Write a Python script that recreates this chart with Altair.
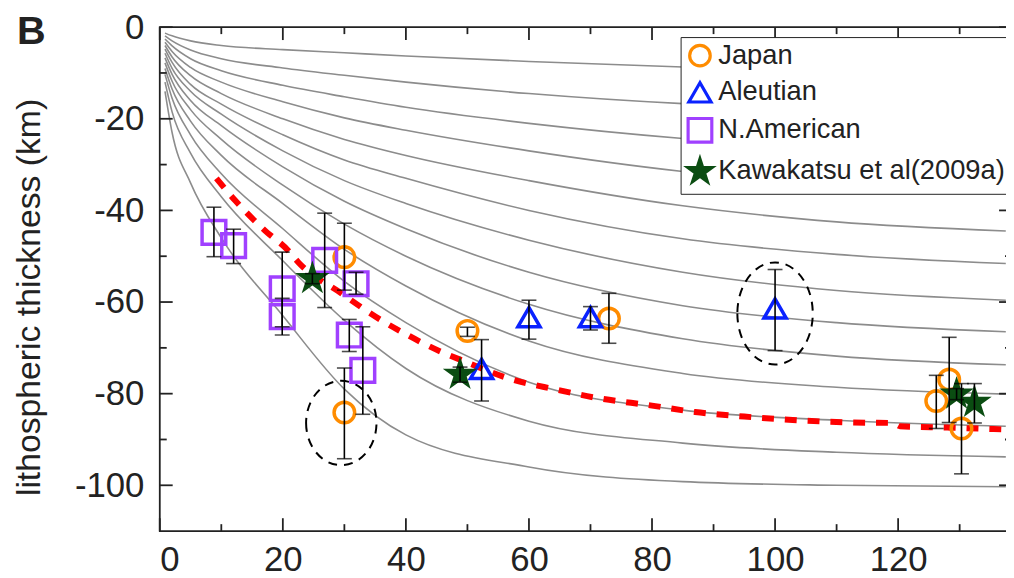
import altair as alt
import pandas as pd

# ---------------- data ----------------
# grey model curves (age, thickness), read at a few ages per curve
curve_x = [0.85, 2, 5, 10, 20, 30, 40, 60, 85, 110, 137.5]
curves = {
    "c01": [-14.0, -23.0, -34.0, -46.0, -63.0, -79.0, -89.0, -96.0, -99.2, -100.0, -100.3],
    "c02": [-12.0, -18.5, -27.5, -37.0, -51.0, -64.0, -74.5, -86.0, -90.8, -92.8, -93.8],
    "c03": [-10.3, -15.5, -23.5, -32.0, -44.0, -55.5, -64.5, -77.5, -83.6, -85.8, -87.1],
    "c04": [-9.0, -13.5, -20.5, -28.0, -38.5, -48.5, -56.5, -68.5, -75.6, -78.6, -80.1],
    "c05": [-7.8, -11.8, -18.0, -24.5, -34.5, -43.0, -50.0, -60.5, -68.0, -71.8, -73.7],
    "c06": [-6.7, -10.3, -16.0, -21.5, -30.5, -38.0, -44.0, -53.5, -60.8, -64.5, -66.5],
    "c07": [-5.7, -9.0, -14.0, -19.0, -27.0, -33.5, -38.5, -46.5, -53.5, -57.5, -59.6],
    "c08": [-4.8, -7.7, -12.5, -16.8, -23.5, -29.0, -33.0, -40.0, -46.2, -49.6, -51.6],
    "c09": [-4.0, -6.5, -10.6, -14.5, -20.0, -24.5, -28.0, -33.5, -39.0, -42.5, -44.5],
    "c10": [-3.3, -5.3, -8.8, -12.0, -16.3, -19.8, -22.5, -27.0, -31.5, -34.5, -36.2],
    "c11": [-2.6, -4.1, -6.9, -9.5, -12.7, -15.2, -17.5, -21.0, -24.3, -26.5, -27.5],
    "c12": [-1.9, -3.0, -5.0, -6.9, -8.9, -10.5, -12.0, -14.5, -16.7, -17.8, -18.5],
    "c13": [-1.3, -1.9, -3.0, -4.0, -4.9, -5.6, -6.3, -7.5, -8.7, -9.6, -10.2],
}

# red dashed mean curve
red_x = [9.2, 12.3, 17.1, 20.9, 22.5, 29.5, 35.9, 39.7, 45.6, 50.0, 56.3, 64.4,
         70.9, 80.0, 87.0, 95.0, 101.0, 112.8, 119.2, 120.3, 128.0, 137.0]
red_y = [-33.0, -37.9, -44.4, -48.8, -51.3, -58.1, -63.9, -66.8, -70.8, -73.2, -76.5, -79.1,
         -80.9, -82.6, -84.0, -85.0, -85.6, -86.3, -86.4, -87.1, -87.4, -87.8]

# observations: series, age, thickness, error-bar low, error-bar high
series_names = ["Japan", "Aleutian", "N.American", "Kawakatsu et al(2009a)"]
obs_series = (["Japan"] * 7 + ["Aleutian"] * 4 + ["N.American"] * 8
              + ["Kawakatsu et al(2009a)"] * 4)
obs_x = [30.0, 30.0, 50.0, 73.0, 126.2, 128.3, 130.3,
         52.3, 60.0, 70.0, 100.0,
         8.8, 12.0, 19.9, 19.9, 26.8, 30.8, 31.9, 33.0,
         24.8, 48.8, 129.5, 132.4]
obs_y = [-50.2, -84.1, -66.3, -63.6, -81.6, -76.9, -87.6,
         -74.6, -63.3, -63.3, -61.4,
         -44.8, -47.7, -57.1, -63.2, -50.9, -67.2, -56.0, -74.9,
         -54.9, -75.8, -80.1, -81.9]
err_lo = [-57.4, -94.2, -67.5, -69.0, -87.6, -86.3, -97.5,
          -81.6, -68.1, -66.1, -70.6,
          -50.1, -51.6, -65.4, -67.2, -61.2, -70.8, -58.3, -84.5,
          -56.0, -77.5, -81.3, -86.4]
err_hi = [-42.8, -74.4, -65.5, -58.1, -76.0, -67.7, -77.8,
          -68.2, -59.6, -61.0, -52.9,
          -39.3, -44.1, -49.1, -59.2, -40.6, -63.8, -53.5, -65.4,
          -53.8, -74.2, -78.9, -77.8]

# dashed ellipses (centre age, centre thickness)
ell_x = [29.5, 100.0]
ell_y = [-86.4, -62.5]

# axis tick values
x_major = [0, 20, 40, 60, 80, 100, 120]
x_minor = [10, 30, 50, 70, 90, 110, 130]
y_major = [0, -20, -40, -60, -80, -100]
y_minor = [-10, -30, -50, -70, -90]

# ---------------- build tables ----------------
rows = []
for name, vals in curves.items():
    for xv, yv in zip(curve_x, vals):
        rows.append({"curve": name, "age": xv, "z": yv})
df_curves = pd.DataFrame(rows)
df_red = pd.DataFrame({"age": red_x, "z": red_y})
df_obs = pd.DataFrame({"series": obs_series, "age": obs_x, "z": obs_y,
                       "lo": err_lo, "hi": err_hi})
df_ell_a = pd.DataFrame({"age": ell_x[:1], "z": ell_y[:1]})
df_ell_b = pd.DataFrame({"age": ell_x[1:], "z": ell_y[1:]})
df_xmaj = pd.DataFrame({"age": x_major})
df_xmin = pd.DataFrame({"age": x_minor})
df_ymaj = pd.DataFrame({"z": y_major})
df_ymin = pd.DataFrame({"z": y_minor})

W, H = 859, 508
XMAX = 138.5
FONT = "Liberation Sans"
INK = "#222222"

xs = alt.Scale(domain=[0, XMAX], nice=False, zero=False)
ys = alt.Scale(domain=[-110, 0], nice=False, zero=False)

x_axis = alt.Axis(
    orient="bottom", values=x_major, ticks=False, domain=False,
    grid=False, labelFontSize=35, labelFont=FONT, labelColor=INK, labelPadding=12,
    title=None)
y_axis = alt.Axis(
    orient="left", values=y_major, ticks=False, domain=False,
    grid=False, labelFontSize=35, labelFont=FONT, labelColor=INK, labelPadding=16,
    labelExpr="'' + datum.value",
    title="lithospheric thickness (km)", titleFontSize=34, titleFont=FONT,
    titleFontWeight="normal", titleColor=INK, titleX=-121, titleY=272,
    titleBaseline="alphabetic", titleAngle=270)


def X(field="age"):
    return alt.X(f"{field}:Q", scale=xs, axis=x_axis)


def Y(field="z"):
    return alt.Y(f"{field}:Q", scale=ys, axis=y_axis)


grey = alt.Chart(df_curves).mark_line(color="#8c8c8c", strokeWidth=1.6,
                                      interpolate="monotone").encode(
    x=X(), y=Y(), detail="curve:N")

red = alt.Chart(df_red).mark_line(color="#ff0000", strokeWidth=6,
                                  strokeDash=[12, 11], interpolate="monotone").encode(
    x=X(), y=Y())

ell_a = alt.Chart(df_ell_a).mark_point(
    filled=False, color="black", strokeWidth=2, strokeDash=[9, 7], opacity=1,
    shape="M -0.835 0 A 0.835 1 0 1 0 0.835 0 A 0.835 1 0 1 0 -0.835 0",
    size=7225).encode(x=X(), y=Y())
ell_b = alt.Chart(df_ell_b).mark_point(
    filled=False, color="black", strokeWidth=2, strokeDash=[9, 7], opacity=1,
    shape="M -0.738 0 A 0.738 1 0 1 0 0.738 0 A 0.738 1 0 1 0 -0.738 0",
    size=10609).encode(x=X(), y=Y())

STAR = ("M 0 -1 L 0.2245 -0.309 L 0.951 -0.309 L 0.363 0.118 L 0.588 0.809 "
        "L 0 0.382 L -0.588 0.809 L -0.363 0.118 L -0.951 -0.309 L -0.2245 -0.309 Z")
colors = ["#ff8c00", "#0a22ff", "#a040ff", "#0b4d12"]
fills = ["transparent", "transparent", "transparent", "#0b4d12"]
shapes = ["circle", "triangle-up", "square", STAR]
sizes = [430, 640, 340, 1500]

legend = alt.Legend(orient="none", legendX=525, legendY=10, title=None,
                    labelFontSize=27.5, labelFont=FONT, labelColor=INK, labelLimit=400,
                    fillColor="white", strokeColor=INK, padding=5,
                    symbolSize=230, symbolStrokeWidth=3.2, rowPadding=3,
                    labelOffset=4, symbolOffset=0)

pts = alt.Chart(df_obs).mark_point(strokeWidth=3.5, opacity=1).encode(
    x=X(), y=Y(),
    color=alt.Color("series:N", scale=alt.Scale(domain=series_names, range=colors),
                    legend=legend),
    shape=alt.Shape("series:N", scale=alt.Scale(domain=series_names, range=shapes),
                    legend=legend),
    fill=alt.Fill("series:N", scale=alt.Scale(domain=series_names, range=fills),
                  legend=legend),
    size=alt.Size("series:N", scale=alt.Scale(domain=series_names, range=sizes),
                  legend=None),
)

bars = alt.Chart(df_obs).mark_rule(color="black", strokeWidth=1.6).encode(
    x=X(), y=Y("lo"), y2="hi:Q")
cap_lo = alt.Chart(df_obs).mark_tick(color="black", thickness=1.6, size=15,
                                     orient="horizontal").encode(x=X(), y=Y("lo"))
cap_hi = alt.Chart(df_obs).mark_tick(color="black", thickness=1.6, size=15,
                                     orient="horizontal").encode(x=X(), y=Y("hi"))

panel_letter = alt.Chart(df_red.head(1)).mark_text(
    text="B", font=FONT, fontSize=40, fontWeight="bold", color=INK,
    align="left", baseline="alphabetic").encode(x=alt.value(-144), y=alt.value(17))

# inward tick marks on all four edges (drawn from the tick-value lists)
TW = 1.8


def xticks(df, size, top):
    if top:
        enc = dict(y=alt.value(0), y2=alt.value(size))
    else:
        enc = dict(y=alt.value(H), y2=alt.value(H - size))
    return alt.Chart(df).mark_rule(color=INK, strokeWidth=TW).encode(x=X(), **enc)


def yticks(df, size, right):
    if right:
        enc = dict(x=alt.value(W), x2=alt.value(W - size))
    else:
        enc = dict(x=alt.value(0), x2=alt.value(size))
    return alt.Chart(df).mark_rule(color=INK, strokeWidth=TW).encode(y=Y(), **enc)


chart = alt.layer(
    grey, red, ell_a, ell_b, pts, bars, cap_lo, cap_hi, panel_letter,
    xticks(df_xmaj, 13, False), xticks(df_xmin, 7, False),
    xticks(df_xmaj, 13, True), xticks(df_xmin, 7, True),
    yticks(df_ymaj, 13, False), yticks(df_ymin, 7, False),
    yticks(df_ymaj, 13, True), yticks(df_ymin, 7, True),
).properties(
    width=W, height=H,
    autosize=alt.AutoSizeParams(type="none"),
    padding={"left": 153, "top": 17, "right": -6, "bottom": 50},
    background="white",
).configure_view(stroke=INK, strokeWidth=1.8)

chart.save("out.html", embed_options={"renderer": "svg", "actions": False})
